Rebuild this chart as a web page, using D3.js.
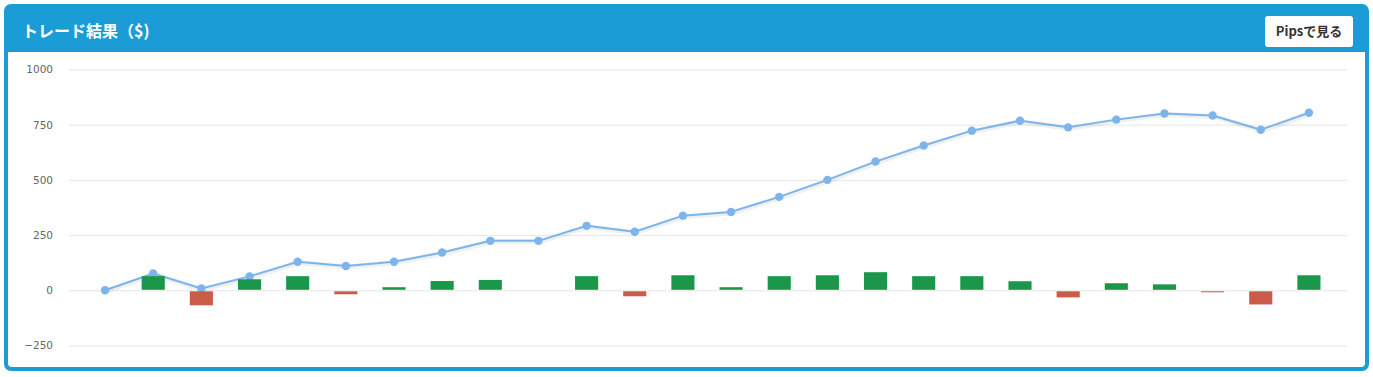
<!DOCTYPE html>
<html>
<head>
<meta charset="utf-8">
<script src="https://cdn.jsdelivr.net/npm/d3@7/dist/d3.min.js"></script>
<style>
html,body{margin:0;padding:0;background:#fff;}
svg{display:block;}
</style>
</head>
<body>
<svg id="c" width="1373" height="377"></svg>
<script>
// ---- data ----
const categories = d3.range(1, 27).map(String);
const tradeProfit = [0, 64, -68, 50, 64, -18, 14, 42, 47, 0, 64, -27, 68, 14, 64, 68, 82, 64, 64, 41, -32, 32, 27, -6, -64, 68];
const cumulative = [0, 76, 8, 63, 129, 110, 129, 171, 224, 224, 292, 265, 338, 355, 423, 500, 583, 656, 723, 768, 738, 773, 801, 792, 727, 804];
const yTicks = [-250, 0, 250, 500, 750, 1000];
const titleText = "トレード結果（$)";
const buttonText = "Pipsで見る";

const svg = d3.select("#c");
const blue = "#1c9cd6";

// card
svg.append("rect").attr("x", 4).attr("y", 4).attr("width", 1365).attr("height", 367)
  .attr("rx", 7).attr("fill", blue);
svg.append("path").attr("fill", "#fff")
  .attr("d", "M8,52 H1365 V363 Q1365,367 1361,367 H12 Q8,367 8,363 Z");

svg.append("text").attr("x", 22).attr("y", 31).attr("dy", "0.36em")
  .attr("fill", "#fff").attr("font-family", "'Noto Sans CJK JP', 'Noto Sans', sans-serif")
  .attr("font-weight", "bold").attr("font-size", 16).text(titleText);

svg.append("rect").attr("x", 1265).attr("y", 16).attr("width", 88).attr("height", 31)
  .attr("rx", 3).attr("fill", "#fff");
svg.append("text").attr("x", 1309).attr("y", 31.5).attr("dy", "0.36em").attr("text-anchor", "middle")
  .attr("fill", "#333").attr("font-family", "'Noto Sans CJK JP', 'Noto Sans', sans-serif")
  .attr("font-weight", "bold").attr("font-size", 13).text(buttonText);

// scales
const y = d3.scaleLinear().domain([-250, 1000]).range([345.5, 69.5]);
const x = d3.scaleBand().domain(categories).range([81, 1333]).paddingInner(0.52).paddingOuter(0.26);
const cx = d => x(d) + x.bandwidth() / 2;

// grid + y axis
const yAxis = d3.axisLeft(y).tickValues(yTicks).tickSize(-(1347 - 69)).tickPadding(16)
  .tickFormat(d3.format("d"));
const gy = svg.append("g").attr("transform", "translate(69,0)").call(yAxis);
gy.select(".domain").remove();
gy.selectAll(".tick line").attr("stroke", "#e6e6e6").attr("stroke-width", 1);
gy.selectAll(".tick text").attr("fill", "#666").attr("font-family", "'DejaVu Sans', Verdana, sans-serif")
  .attr("font-size", 10.5);

// line (drawn under bars)
const line = d3.line().x((d, i) => cx(categories[i])).y(d => y(d));
svg.append("path").datum(cumulative).attr("d", line).attr("fill", "none")
  .attr("stroke", "rgba(0,0,0,0.06)").attr("stroke-width", 5).attr("transform", "translate(1,1)");
svg.append("path").datum(cumulative).attr("d", line).attr("fill", "none")
  .attr("stroke", "#7cb5ec").attr("stroke-width", 2).attr("stroke-linejoin", "round");
svg.append("g").selectAll("circle").data(cumulative).join("circle")
  .attr("cx", (d, i) => cx(categories[i])).attr("cy", d => y(d)).attr("r", 4.2)
  .attr("fill", "#7cb5ec");

// bars
svg.append("g").selectAll("rect").data(tradeProfit).join("rect")
  .attr("x", (d, i) => x(categories[i]))
  .attr("width", x.bandwidth())
  .attr("y", d => d >= 0 ? y(d) : y(0) + 1)
  .attr("height", d => d === 0 ? 0 : (d >= 0 ? y(0) - y(d) - 0.5 : Math.max(1, y(d) - y(0) - 1)))
  .attr("fill", d => d >= 0 ? "#1a974a" : "#c95c48");
</script>
</body>
</html>
